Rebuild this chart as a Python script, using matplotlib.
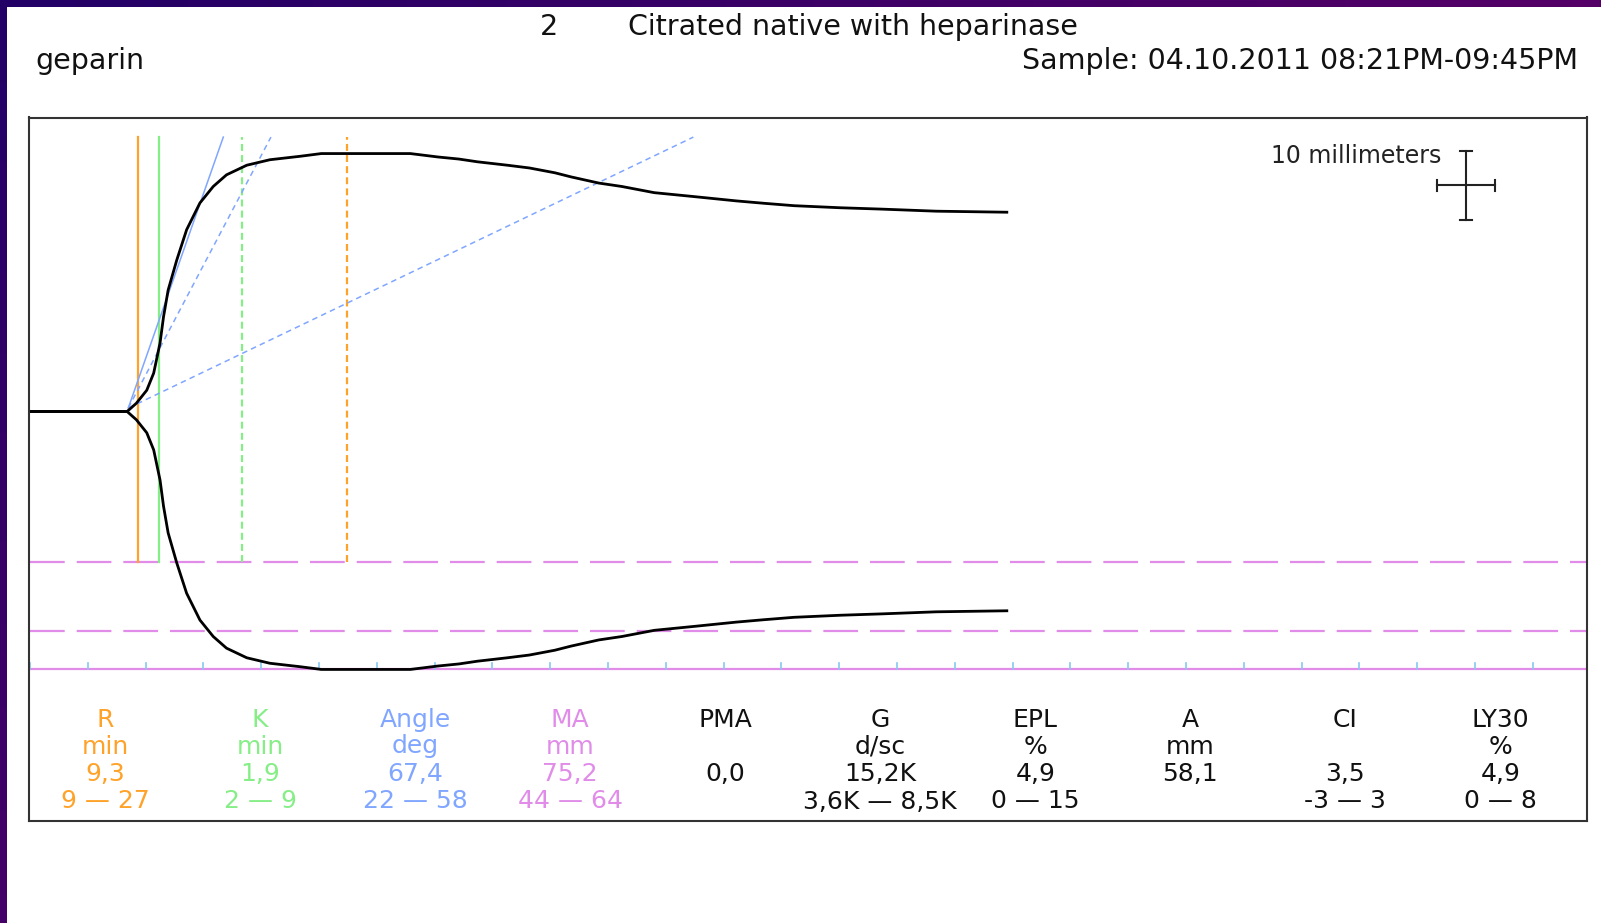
import numpy as np
import matplotlib
matplotlib.use("Agg")
import matplotlib.pyplot as plt

plt.rcParams['font.family'] = ['DejaVu Sans']
plt.rcParams['lines.scale_dashes'] = False

# ---- data -------------------------------------------------------------
# thromboelastogram: time (min) and clot amplitude (mm)
time_min = [0, 8.4, 9.2, 10.1, 10.7, 11.25, 11.55, 11.95, 12.7, 13.55, 14.7,
            15.85, 17.0, 18.75, 20.75, 23.35, 25.2, 32.9, 35.3, 37.1, 38.7,
            41.3, 43.2, 45.4, 46.8, 49.2, 51.2, 54.0, 57.6, 61.1, 63.5, 66.1,
            70.1, 73.7, 78.4, 84.5]
amplitude_mm = [0, 0, 2.4, 6.2, 11.2, 20.0, 27.6, 35.4, 44.2, 53.0, 60.8,
                65.6, 69.0, 71.8, 73.4, 74.4, 75.2, 75.2, 74.2, 73.6, 72.8,
                71.8, 71.0, 69.6, 68.4, 66.6, 65.6, 63.8, 62.6, 61.4, 60.7,
                60.0, 59.4, 59.0, 58.4, 58.1]

r_time = 9.3          # R, min
rk_time = 11.2        # R + K, min
r_limit = 27.4        # dashed R limit marker, min
rk_limit = 18.3       # dashed R+K limit marker, min
angle_measured = 67.4
angle_range = [22, 58]
angle_origin = (8.5, 0.5)
ma_value = 75.2
ma_range = [44, 64]
paper_speed = 2.0     # mm per min used for angle geometry

param_names = ["R", "K", "Angle", "MA", "PMA", "G", "EPL", "A", "CI", "LY30"]
param_units = ["min", "min", "deg", "mm", "", "d/sc", "%", "mm", "", "%"]
param_values = ["9,3", "1,9", "67,4", "75,2", "0,0", "15,2K", "4,9", "58,1", "3,5", "4,9"]
param_ranges = ["9 \u2014 27", "2 \u2014 9", "22 \u2014 58", "44 \u2014 64", "",
                "3,6K \u2014 8,5K", "0 \u2014 15", "", "-3 \u2014 3", "0 \u2014 8"]

ORANGE = "#ffa22a"
GREEN = "#86ee86"
BLUE = "#80a6ff"
MAGENTA = "#e08ce8"
TICK = "#86c8f0"
INK = "#111111"

W, H = 1601, 923
fig = plt.figure(figsize=(W / 100, H / 100), dpi=100)
fig.patch.set_facecolor("white")


def fx(px):
    return px / W


def fy(py):
    return 1 - py / H


# ---- frame gradient bands --------------------------------------------
top = fig.add_axes([0, fy(7), 1, 7 / H])
grad = np.linspace(0, 1, 256)
c0 = np.array([0x22, 0x00, 0x66]) / 255
c1 = np.array([0x55, 0x00, 0x66]) / 255
top.imshow((c0[None, :] * (1 - grad[:, None]) + c1[None, :] * grad[:, None])[None, :, :],
           aspect="auto", extent=[0, 1, 0, 1])
top.axis("off")
left = fig.add_axes([0, 0, 6 / W, 1])
c2 = np.array([0x44, 0x00, 0x66]) / 255
left.imshow((c0[None, :] * (1 - grad[:, None]) + c2[None, :] * grad[:, None])[:, None, :],
            aspect="auto", extent=[0, 1, 0, 1])
left.axis("off")

# ---- main plotting box -----------------------------------------------
bx0, bx1, by0, by1 = 28.5, 1587, 117.5, 821
ax = fig.add_axes([fx(bx0), fy(by1), (bx1 - bx0) / W, (by1 - by0) / H])
px_per_min = 11.56
px_per_mm = 6.86
x0_px, base_px = 30.0, 411.5
ax.set_xlim((bx0 - x0_px) / px_per_min, (bx1 - x0_px) / px_per_min)
ax.set_ylim(-(by1 - base_px) / px_per_mm, (base_px - by0) / px_per_mm)
ax.set_xticks([])
ax.set_yticks([])
for s in ax.spines.values():
    s.set_linewidth(1.5)
    s.set_color("#333333")

t = np.array(time_min)
half = np.array(amplitude_mm) / 2
xmax = ax.get_xlim()[1]

# MA reference lines
ma_line = -ma_value / 2
ax.plot([0, xmax], [ma_line, ma_line], color=MAGENTA, lw=1.6, solid_capstyle="butt")
for v in ma_range:
    ax.plot([0, xmax], [-v / 2, -v / 2], color=MAGENTA, lw=1.6, dashes=(25, 8.6))

# time ticks every 5 min
for tk in np.arange(0, 131, 5):
    ax.plot([tk, tk], [ma_line, ma_line + 1.0], color=TICK, lw=1.2)

# R / K markers
y_low = -ma_range[0] / 2
ax.plot([r_time, r_time], [y_low, 40], color=ORANGE, lw=1.6)
ax.plot([rk_time, rk_time], [y_low, 40], color=GREEN, lw=1.6)
ax.plot([r_limit, r_limit], [y_low, 40], color=ORANGE, lw=1.6, dashes=(5, 3))
ax.plot([rk_limit, rk_limit], [y_low, 40], color=GREEN, lw=1.6, dashes=(5, 3))

# angle lines
ox, oy = angle_origin
for ang, style in [(angle_measured, None)] + [(a, (4, 3)) for a in angle_range]:
    slope = np.tan(np.radians(ang)) * paper_speed
    x_end = ox + (40 - oy) / slope
    kw = dict(color=BLUE, lw=1.1)
    if style:
        kw["dashes"] = style
    ax.plot([ox, x_end], [oy, 40], **kw)

# clot curve
ax.plot(t, half, color="black", lw=2.0, solid_joinstyle="round")
ax.plot(t, -half, color="black", lw=2.0, solid_joinstyle="round")

# 10 mm / 5 min scale cross
cx, cy = (1466 - x0_px) / px_per_min, (base_px - 185.3) / px_per_mm
ax.plot([cx, cx], [cy - 5, cy + 5], color="#222222", lw=1.5)
ax.plot([cx - 2.5, cx + 2.5], [cy, cy], color="#222222", lw=1.5)
for yy in (cy - 5, cy + 5):
    ax.plot([cx - 0.5, cx + 0.5], [yy, yy], color="#222222", lw=1.5)
for xx in (cx - 2.5, cx + 2.5):
    ax.plot([xx, xx], [cy - 0.8, cy + 0.8], color="#222222", lw=1.5)
fig.text(fx(1441), fy(156), "10 millimeters", ha="right", va="center",
         fontsize=17, color="#222222")

# ---- header -----------------------------------------------------------
HDR = 20.5
fig.text(fx(549), fy(27), "2", ha="center", va="center", fontsize=HDR, color=INK)
fig.text(fx(628), fy(27), "Citrated native with heparinase", ha="left", va="center",
         fontsize=HDR, color=INK)
fig.text(fx(35), fy(61), "geparin", ha="left", va="center", fontsize=HDR, color=INK)
fig.text(fx(1578), fy(61), "Sample: 04.10.2011 08:21PM-09:45PM", ha="right",
         va="center", fontsize=HDR, color=INK)

# ---- parameter table --------------------------------------------------
col_colors = [ORANGE, GREEN, BLUE, MAGENTA] + [INK] * 6
col_x0, col_dx = 105.2, 155.0
rows_y = [720, 746.5, 774, 801.5]
for i, name in enumerate(param_names):
    x = fx(col_x0 + i * col_dx)
    for txt, yy in zip([name, param_units[i], param_values[i], param_ranges[i]], rows_y):
        if txt:
            fig.text(x, fy(yy), txt, ha="center", va="center", fontsize=18,
                     color=col_colors[i])

fig.savefig("out.png", dpi=100, facecolor="white")
